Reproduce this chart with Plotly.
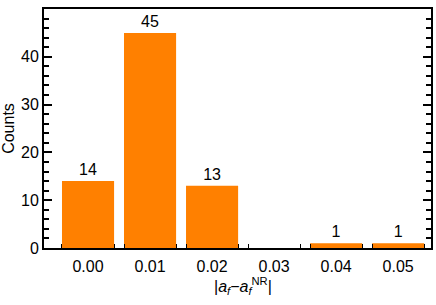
import plotly.graph_objects as go

bin_centers = [0.00, 0.01, 0.02, 0.03, 0.04, 0.05]
counts = [14, 45, 13, 0, 1, 1]
tick_labels = ["0.00", "0.01", "0.02", "0.03", "0.04", "0.05"]
y_ticks = [0, 10, 20, 30, 40]
bar_width = 0.0084

bar_text = [str(c) if c > 0 else "" for c in counts]
edges = []
for c in bin_centers:
    edges += [c - bar_width / 2, c + bar_width / 2]

FONT = "Liberation Sans, Arial, Helvetica, sans-serif"
xr = [-0.0071, 0.0553]

fig = go.Figure()
fig.add_trace(go.Bar(
    x=bin_centers, y=counts, width=bar_width,
    marker=dict(color="#FF8000", line=dict(width=0)),
    text=bar_text, textposition="outside", cliponaxis=False,
    textfont=dict(family=FONT, size=16, color="black"),
    hoverinfo="skip",
))
# invisible trace to activate bin-edge tick axis
fig.add_trace(go.Scatter(x=[edges[0]], y=[0], xaxis="x2", yaxis="y",
                         mode="markers", marker=dict(opacity=0),
                         showlegend=False, hoverinfo="skip"))

fig.update_layout(
    width=436, height=305,
    margin=dict(l=44, r=5, t=9, b=57),
    paper_bgcolor="white", plot_bgcolor="white",
    showlegend=False,
    font=dict(family=FONT, size=16, color="black"),
    xaxis=dict(
        range=xr, tickmode="array", tickvals=bin_centers, ticktext=tick_labels,
        ticks="", showgrid=False, zeroline=False,
        showline=True, linecolor="black", linewidth=2, mirror=True,
        ticklabelstandoff=3,
        automargin=False,
    ),
    xaxis2=dict(
        range=xr, overlaying="x", anchor="y", side="bottom",
        tickmode="array", tickvals=edges, ticks="inside", ticklen=4,
        tickwidth=1, tickcolor="black", showticklabels=False,
        showgrid=False, zeroline=False, showline=False,
    ),
    yaxis=dict(
        range=[0, 50], tickmode="array", tickvals=y_ticks,
        ticks="inside", ticklen=8, tickwidth=2, tickcolor="black",
        minor=dict(dtick=2, tick0=0, ticks="inside", ticklen=5,
                   tickwidth=2, tickcolor="black", showgrid=False),
        showgrid=False, zeroline=False,
        showline=True, linecolor="black", linewidth=2, mirror="ticks",
        title=dict(text="Counts", standoff=4, font=dict(size=16)),
        automargin=False,
    ),
    annotations=[dict(
        text="|<i>a</i><sub><i>f</i></sub>\u2212<i>a</i><sub><i>f</i></sub><sup>NR</sup>|",
        xref="paper", yref="paper", x=0.514, y=0, xanchor="center", yanchor="top",
        yshift=-25, showarrow=False, font=dict(family=FONT, size=16, color="black"),
    )],
)

fig.write_html("out.html", config={"displayModeBar": False},
               post_script="document.body.style.margin='0';document.body.style.padding='0';")
